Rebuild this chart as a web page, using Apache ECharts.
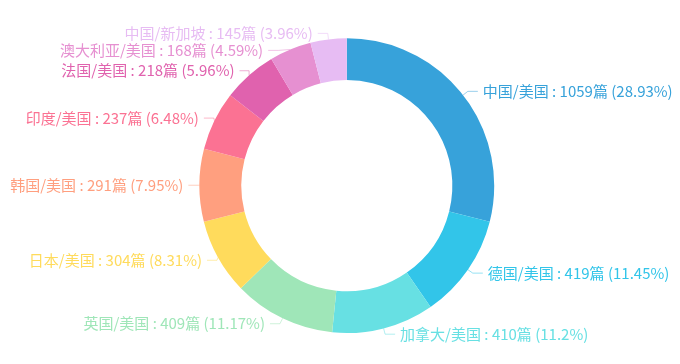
<!DOCTYPE html>
<html>
<head>
<meta charset="utf-8">
<script src="https://cdn.jsdelivr.net/npm/echarts@6/dist/echarts.min.js"></script>
<style>
  html, body { margin: 0; padding: 0; background: #fff; }
  #chart { width: 680px; height: 364px; }
</style>
</head>
<body>
<div id="chart"></div>
<script>
// 合作国家 / 论文数
const names = ["中国/美国", "德国/美国", "加拿大/美国", "英国/美国", "日本/美国", "韩国/美国", "印度/美国", "法国/美国", "澳大利亚/美国", "中国/新加坡"];
const counts = [1059, 419, 410, 409, 304, 291, 237, 218, 168, 145];
const colors = ["#37a2da", "#32c5e9", "#67e0e3", "#9fe6b8", "#ffdb5c", "#ff9f7f", "#fb7293", "#e062ae", "#e690d1", "#e7bcf3"];

const chart = echarts.init(document.getElementById("chart"));

chart.setOption({
  color: colors,
  animation: false,
  series: [
    {
      type: "pie",
      center: ["51%", "51%"],
      radius: ["58%", "81%"],
      startAngle: 90,
      data: names.map((n, i) => ({ name: n, value: counts[i] })),
      label: {
        formatter: "{b} : {c}篇 ({d}%)",
        color: "inherit",
        fontSize: 15,
        fontFamily: "Noto Sans CJK SC",
        overflow: "none"
      },
      labelLine: {
        length: 6,
        length2: 10,
        lineStyle: { width: 1, opacity: 0.5 }
      }
    }
  ]
});
</script>
</body>
</html>
